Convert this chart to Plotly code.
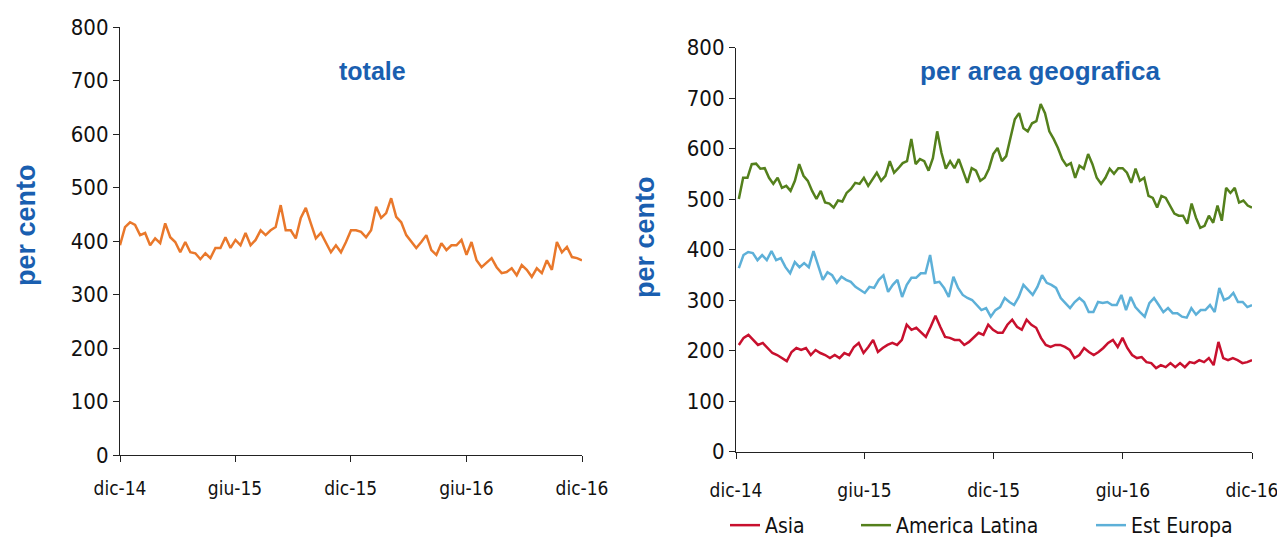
import pandas as pd
import plotly.graph_objects as go

# ---------------- data ----------------
totale = [392, 426, 435, 430, 411, 415, 392, 405, 396, 433, 407, 398, 379, 398, 379, 377,
          366, 377, 368, 387, 387, 407, 387, 402, 392, 415, 392, 402, 420, 411, 420, 426,
          467, 420, 420, 405, 443, 462, 433, 405, 415, 396, 379, 392, 379, 398, 420,
          420, 417, 407, 420, 464, 443, 452, 480, 445, 435, 411, 398, 387, 398, 411, 383,
          374, 396, 383, 392, 392, 402, 374, 398, 364, 351, 359, 368, 351, 340, 342, 349,
          336, 355, 346, 333, 349, 340, 364, 346, 398, 379, 389, 370, 368, 364]

america_latina = [500, 542, 542, 569, 570, 560, 561, 542, 530, 542, 522, 526, 516, 536, 569, 546,
                  536, 516, 500, 516, 493, 491, 483, 497, 495, 512, 520, 532, 530, 542, 526, 540,
                  552, 536, 546, 575, 552, 561, 571, 575, 619, 569, 579, 575, 556, 581, 634, 591,
                  560, 575, 561, 579, 556, 532, 561, 556, 536, 542, 560, 589, 601,
                  575, 585, 621, 658, 670, 640, 634, 650, 654, 688, 670, 634, 619, 601, 579,
                  566, 571, 542, 566, 560, 589, 569, 542, 530, 542, 560, 550, 561, 561, 552,
                  532, 560, 536, 542, 506, 502, 483, 506, 502, 487, 471, 467, 467, 451, 491,
                  463, 443, 447, 467, 453, 487, 457, 522, 512, 522, 493, 497, 487, 483]

est_europa = [363, 389, 395, 393, 379, 389, 379, 397, 379, 383, 365, 353, 375, 365, 373, 365,
              397, 369, 340, 355, 349, 334, 346, 340, 336, 326, 320, 314, 326, 324, 340, 349,
              316, 330, 340, 306, 330, 344, 344, 353, 353, 389, 334, 336, 324, 306, 346, 324,
              310, 304, 300, 290, 280, 284, 267, 280, 286, 304, 296,
              290, 306, 330, 320, 310, 326, 349, 334, 330, 324, 304, 294, 284, 296, 304,
              296, 276, 276, 296, 294, 296, 290, 290, 310, 280, 306, 286, 276, 267, 294,
              304, 290, 276, 284, 274, 274, 267, 265, 284, 271, 280, 280, 290, 276, 324,
              300, 304, 314, 296, 296, 286, 290]

asia = [211, 225, 231, 221, 211, 215, 205, 195, 191, 185, 179, 197, 205, 201, 205, 191,
        201, 195, 191, 185, 191, 185, 195, 191, 207, 215, 195, 207, 221, 197, 205, 211,
        215, 211, 221, 251, 241, 245, 235, 227, 247, 269, 247, 227, 225, 221, 221, 211,
        217, 227, 235, 231, 251, 241,
        235, 235, 251, 261, 247, 241, 261, 251, 245, 225, 211, 207, 211, 211, 207, 201,
        185, 191, 205, 197, 191, 197, 205, 215, 221, 207, 225, 205, 191, 185, 187, 177,
        175, 165, 171, 167, 175, 167, 175, 167, 177, 175, 181, 177, 185, 171, 217, 185,
        181, 185, 181, 175, 177, 181]

tick_dates = ["2014-12-01", "2015-06-01", "2015-12-01", "2016-06-01", "2016-12-01"]
tick_labels = ["dic-14", "giu-15", "dic-15", "giu-16", "dic-16"]
start, end = "2014-12-01", "2016-12-01"


def dates(n, first=start):
    return pd.date_range(first, end, periods=n)


ORANGE = "#e9782b"
GREEN = "#54801c"
BLUE_L = "#5db0d8"
RED = "#c8102e"
TITLE_BLUE = "#1a5fb0"
FONT = "DejaVu Sans Condensed, Liberation Sans Narrow, Roboto, sans-serif"
TFONT = "Liberation Sans, Arial, sans-serif"

OFF = 8                      # page body margin
W, H = 1285 - OFF, 537 - OFF


def fx(px):
    return (px - OFF) / W


def fy(py):
    return 1 - (py - OFF) / H


fig = go.Figure()
fig.add_trace(go.Scatter(x=dates(len(totale)), y=totale, mode="lines",
                         line=dict(color=ORANGE, width=2.5), showlegend=False,
                         xaxis="x", yaxis="y"))
fig.add_trace(go.Scatter(x=dates(len(asia), "2014-12-05"), y=asia, mode="lines", name="Asia",
                         line=dict(color=RED, width=2.5), xaxis="x2", yaxis="y2",
                         legend="legend"))
fig.add_trace(go.Scatter(x=dates(len(america_latina), "2014-12-05"), y=america_latina, mode="lines",
                         name="America Latina", line=dict(color=GREEN, width=2.5),
                         xaxis="x2", yaxis="y2", legend="legend2"))
fig.add_trace(go.Scatter(x=dates(len(est_europa), "2014-12-05"), y=est_europa, mode="lines",
                         name="Est Europa", line=dict(color=BLUE_L, width=2.5),
                         xaxis="x2", yaxis="y2", legend="legend3"))

axis_common = dict(showgrid=False, zeroline=False, showline=True, linecolor="#222",
                   linewidth=1.2, ticks="outside", tickcolor="#222", ticklen=6,
                   automargin=False)

xcommon = dict(axis_common, type="date", range=[start, end], tickvals=tick_dates,
               ticktext=tick_labels, tickfont=dict(family=FONT, size=19, color="#111"))
ycommon = dict(axis_common, range=[0, 800], dtick=100, tick0=0,
               tickfont=dict(family=FONT, size=22, color="#111"))

leg_common = dict(orientation="h", bgcolor="rgba(0,0,0,0)", borderwidth=0,
                  font=dict(family=FONT, size=21, color="#111"), itemwidth=30,
                  yanchor="bottom", xanchor="left", y=-9 / H)

ann_common = dict(xref="paper", yref="paper", showarrow=False,
                  xanchor="center", yanchor="middle")

fig.update_layout(
    template="none",
    width=W, height=H,
    margin=dict(l=0, r=0, t=0, b=0, autoexpand=False),
    paper_bgcolor="white", plot_bgcolor="white",
    xaxis=dict(xcommon, domain=[fx(120), fx(582)], anchor="y", ticklabelstandoff=10),
    yaxis=dict(ycommon, domain=[fy(455), fy(27)], anchor="x"),
    xaxis2=dict(xcommon, domain=[fx(736), fx(1252)], anchor="y2", ticklabelstandoff=16),
    yaxis2=dict(ycommon, domain=[fy(451.5), fy(47.5)], anchor="x2"),
    legend=dict(leg_common, x=fx(725)),
    legend2=dict(leg_common, x=fx(856)),
    legend3=dict(leg_common, x=fx(1091)),
    annotations=[
        dict(ann_common, text="<b>totale</b>", x=fx(372), y=fy(71),
             font=dict(family=TFONT, size=25, color=TITLE_BLUE)),
        dict(ann_common, text="<b>per area geografica</b>", x=fx(1040), y=fy(71),
             font=dict(family=TFONT, size=26, color=TITLE_BLUE)),
        dict(ann_common, text="<b>per cento</b>", x=fx(26), y=fy(225), textangle=-90,
             font=dict(family=TFONT, size=27, color=TITLE_BLUE)),
        dict(ann_common, text="<b>per cento</b>", x=fx(645), y=fy(237), textangle=-90,
             font=dict(family=TFONT, size=27, color=TITLE_BLUE)),
    ],
)

fig.write_html("out.html")
